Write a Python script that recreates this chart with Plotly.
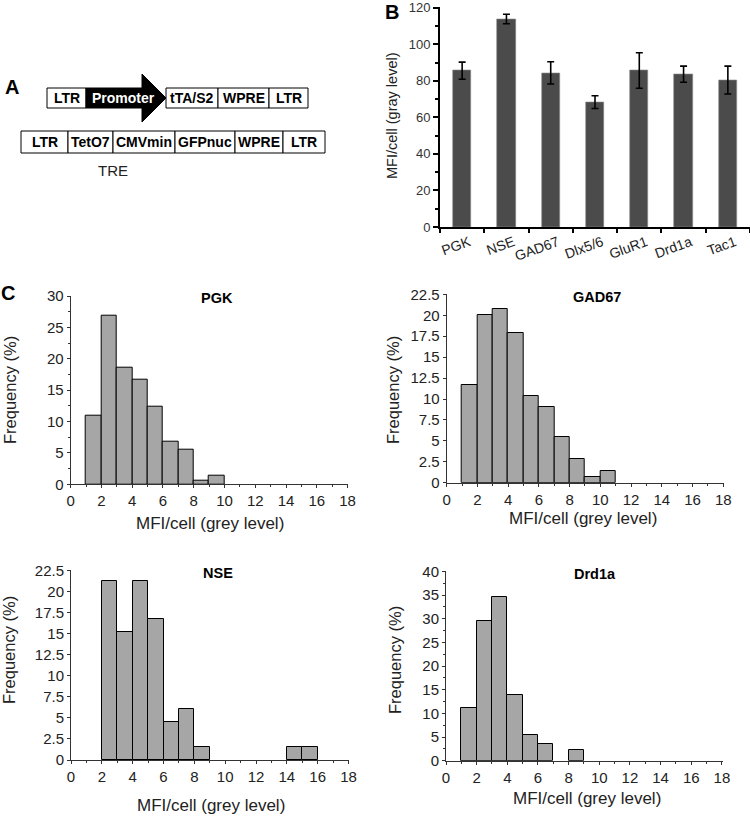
import plotly.graph_objects as go

W, H = 750, 818
FONT = "Liberation Sans, Arial, sans-serif"

# ---------------- Panel B data ----------------
promoters = ["PGK", "NSE", "GAD67", "Dlx5/6", "GluR1", "Drd1a", "Tac1"]
mfi_mean = [85.5, 113.8, 84.3, 68.3, 85.6, 83.6, 80.4]
mfi_err = [4.7, 2.6, 6.1, 3.5, 9.7, 4.4, 7.6]

# ---------------- Panel C data (bin left edges, frequency %) ----------------
pgk_bins = [1, 2, 3, 4, 5, 6, 7, 8, 9]
pgk_freq = [11.0, 26.9, 18.6, 16.6, 12.3, 6.8, 5.5, 0.6, 1.4]

gad_bins = [1, 2, 3, 4, 5, 6, 7, 8, 9, 10]
gad_freq = [11.7, 20.0, 20.7, 17.9, 10.3, 9.0, 5.5, 2.8, 0.7, 1.4]

nse_bins = [2, 3, 4, 5, 6, 7, 8, 14, 15]
nse_freq = [21.2, 15.2, 21.2, 16.7, 4.5, 6.1, 1.5, 1.5, 1.5]

drd_bins = [1, 2, 3, 4, 5, 6, 8]
drd_freq = [11.1, 29.6, 34.6, 13.9, 5.5, 3.6, 2.2]

# ---------------- Panel A schematic ----------------
top_labels = ["LTR", "Promoter", "tTA/S2", "WPRE", "LTR"]
top_edges = [47, 86, 166, 218, 269, 308]
bot_labels = ["LTR", "TetO7", "CMVmin", "GFPnuc", "WPRE", "LTR"]
bot_edges = [21, 68, 113, 175, 235, 283, 325]


def dx(p):
    return p / W


def dy(p):
    return 1 - p / H


fig = go.Figure()

# Panel B bars
fig.add_trace(go.Bar(
    x=promoters, y=mfi_mean, width=0.41,
    marker=dict(color="#4b4b4b", line=dict(color="#8a8a8a", width=0.6)),
    error_y=dict(type="data", array=mfi_err, color="black", thickness=1.6, width=3.5),
    xaxis="x", yaxis="y", showlegend=False,
))

hists = [
    (pgk_bins, pgk_freq, "x2", "y2"),
    (gad_bins, gad_freq, "x3", "y3"),
    (nse_bins, nse_freq, "x4", "y4"),
    (drd_bins, drd_freq, "x5", "y5"),
]
for bins, freq, xa, ya in hists:
    fig.add_trace(go.Bar(
        x=[b + 0.5 for b in bins], y=freq, width=1,
        marker=dict(color="#a6a6a6", line=dict(color="black", width=1)),
        xaxis=xa, yaxis=ya, showlegend=False,
    ))

layout = dict(
    width=W, height=H, margin=dict(l=0, r=0, t=0, b=0),
    paper_bgcolor="white", plot_bgcolor="white",
    font=dict(family=FONT, color="#222"),
    bargap=0,
)

# Panel B axes
layout["xaxis"] = dict(
    domain=[dx(440), dx(750)], anchor="y", range=[-0.5, 6.5],
    showline=True, linecolor="black", linewidth=2,
    ticks="outside", ticklen=4, tickwidth=1.5, tickcolor="black",
    tickmode="array", tickvals=list(range(len(promoters))), ticktext=promoters,
    tickson="boundaries", tickangle=-20, ticklabelshift=7,
    tickfont=dict(size=14, color="#222"),
    showgrid=False, zeroline=False, automargin=False, fixedrange=True,
)
layout["yaxis"] = dict(
    domain=[dy(227), dy(7.3)], anchor="x", range=[0, 120.2],
    showline=True, linecolor="black", linewidth=2,
    ticks="outside", ticklen=5, tickwidth=1.5, tickcolor="black",
    tickmode="array", tickvals=[0, 20, 40, 60, 80, 100, 120],
    tickfont=dict(size=13, color="#333"),
    minor=dict(ticks="outside", ticklen=3, tickcolor="black", dtick=10),
    showgrid=False, zeroline=False, automargin=False,
)

hist_geo = [
    ("xaxis2", "yaxis2", "x2", "y2", (70.7, 348.3), (484.3, 295.7), 30, 5, 2.5),
    ("xaxis3", "yaxis3", "x3", "y3", (446.7, 724.0), (482.7, 294.0), 22.5, 2.5, None),
    ("xaxis4", "yaxis4", "x4", "y4", (71.0, 349.3), (760.0, 570.0), 22.5, 2.5, None),
    ("xaxis5", "yaxis5", "x5", "y5", (446.0, 722.7), (760.7, 571.0), 40, 5, 2.5),
]
for xn, yn, xs, ys, (x0, x1), (yb, yt), ymax, ydt, ymin in hist_geo:
    layout[xn] = dict(
        domain=[dx(x0), dx(x1)], anchor=ys, range=[0, 18.05],
        showline=True, linecolor="#333", linewidth=1,
        ticks="outside", ticklen=3, tickcolor="#333", dtick=2,
        minor=dict(ticks="outside", ticklen=2, tickcolor="#333", dtick=1),
        tickfont=dict(size=15, color="#222"),
        showgrid=False, zeroline=False, automargin=False,
    )
    ya = dict(
        domain=[dy(yb), dy(yt)], anchor=xs, range=[0, ymax * 1.002],
        showline=True, linecolor="#333", linewidth=1,
        ticks="outside", ticklen=3, tickcolor="#333", dtick=ydt,
        tickfont=dict(size=15, color="#222"),
        showgrid=False, zeroline=False, automargin=False,
    )
    if ymin:
        ya["minor"] = dict(ticks="outside", ticklen=2, tickcolor="#333", dtick=ymin)
    layout[yn] = ya

# Hidden axis for schematic (pixel units)
layout["xaxis6"] = dict(domain=[0, dx(340)], range=[0, 340], visible=False,
                        anchor="y6", automargin=False)
layout["yaxis6"] = dict(domain=[dy(180), dy(60)], range=[180, 60], visible=False,
                        anchor="x6", automargin=False)

fig.update_layout(**layout)

shapes = []
annotations = []


def ann(x, y, text, size, color="#222", xref="paper", yref="paper", angle=0):
    annotations.append(dict(
        x=x, y=y, xref=xref, yref=yref, text=text, showarrow=False,
        xanchor="center", yanchor="middle", textangle=angle,
        font=dict(size=size, color=color, family=FONT),
    ))


# top row
ty0, ty1 = 88, 108
for i, lab in enumerate(top_labels):
    a, b = top_edges[i], top_edges[i + 1]
    if lab == "Promoter":
        head = b - 24
        path = (f"M {a},{ty0} L {head},{ty0} L {head},{ty0 - 14} L {b},{(ty0 + ty1) / 2} "
                f"L {head},{ty1 + 14} L {head},{ty1} L {a},{ty1} Z")
        shapes.append(dict(type="path", path=path, xref="x6", yref="y6",
                           fillcolor="black", line=dict(color="black", width=1)))
        ann((a + b) / 2 - 3, (ty0 + ty1) / 2, "<b>Promoter</b>", 14, "white", "x6", "y6")
    else:
        shapes.append(dict(type="rect", x0=a, x1=b, y0=ty0, y1=ty1, xref="x6", yref="y6",
                           fillcolor="white", line=dict(color="black", width=1)))
        ann((a + b) / 2, (ty0 + ty1) / 2, f"<b>{lab}</b>", 14, "black", "x6", "y6")

# bottom row
by0, by1 = 131, 153
for i, lab in enumerate(bot_labels):
    a, b = bot_edges[i], bot_edges[i + 1]
    shapes.append(dict(type="rect", x0=a, x1=b, y0=by0, y1=by1, xref="x6", yref="y6",
                       fillcolor="white", line=dict(color="black", width=1)))
    ann((a + b) / 2, (by0 + by1) / 2, f"<b>{lab}</b>", 14, "black", "x6", "y6")
ann(113, 170, "TRE", 15, "#222", "x6", "y6")

# Panel letters
for lab, px, py in [("A", 12, 87), ("B", 392, 12), ("C", 8, 293)]:
    ann(dx(px), dy(py), f"<b>{lab}</b>", 20, "black")

# Histogram titles
for lab, px, py in [("PGK", 217, 298), ("GAD67", 597, 297), ("NSE", 218, 573), ("Drd1a", 595, 574)]:
    ann(dx(px), dy(py), f"<b>{lab}</b>", 14.5, "black")

# Axis titles
for px, py in [(210, 523), (583, 518), (211, 805), (587, 798)]:
    ann(dx(px), dy(py), "MFI/cell (grey level)", 17)
for px, py in [(10, 390), (393, 390), (9, 650), (395, 660)]:
    ann(dx(px), dy(py), "Frequency (%)", 16.5, angle=-90)
ann(dx(392), dy(115), "MFI/cell (gray level)", 14.5, angle=-90)

fig.update_layout(shapes=shapes, annotations=annotations)
fig.write_html(
    "out.html",
    config={"displayModeBar": False},
    post_script="document.body.style.margin='0';document.body.style.padding='0';",
)
